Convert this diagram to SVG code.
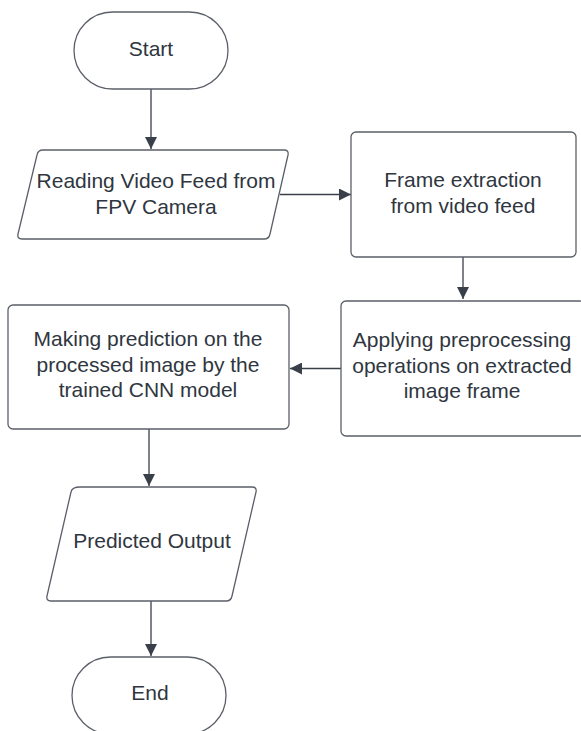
<svg xmlns="http://www.w3.org/2000/svg" width="581" height="731" viewBox="0 0 581 731">
  <defs>
    <marker id="arrow" viewBox="0 0 12 12" refX="12" refY="6" markerWidth="12" markerHeight="12" markerUnits="userSpaceOnUse" orient="auto">
      <path d="M0,0 L12,6 L0,12 Z" fill="#3a404a"/>
    </marker>
    <style>
      .shape { fill: #ffffff; stroke: #5b6068; stroke-width: 1.3; stroke-linejoin: round; }
      .conn { fill: none; stroke: #3a404a; stroke-width: 1.3; marker-end: url(#arrow); }
      .label { font-family: "Liberation Sans", Arial, sans-serif; font-size: 21px; fill: #2f3640; text-anchor: middle; }
    </style>
  </defs>
  <rect width="581" height="731" fill="#ffffff"/>

  <g id="connectors">
    <line class="conn" x1="151" y1="89" x2="151" y2="149"/>
    <line class="conn" x1="280" y1="194.5" x2="351" y2="194.5"/>
    <line class="conn" x1="463" y1="257" x2="463" y2="299"/>
    <line class="conn" x1="341" y1="368.5" x2="290" y2="368.5"/>
    <line class="conn" x1="149" y1="429" x2="149" y2="486"/>
    <line class="conn" x1="151" y1="601" x2="151" y2="656"/>
  </g>

  <g id="start">
    <rect class="shape" x="74" y="12" width="154" height="77" rx="38.5" ry="38.5"/>
    <text class="label" x="151" y="56">Start</text>
  </g>

  <g id="read-feed">
    <path class="shape" d="M43,150 L284,150 Q289,150 288,155 L270,234 Q269,239 264,239 L22,239 Q17,239 18,234 L37,155 Q38,150 43,150 Z"/>
    <text class="label" x="156" y="188">Reading Video Feed from</text>
    <text class="label" x="156" y="214">FPV Camera</text>
  </g>

  <g id="frame-extraction">
    <rect class="shape" x="351" y="132" width="225" height="125" rx="5" ry="5"/>
    <text class="label" x="463" y="187">Frame extraction</text>
    <text class="label" x="463" y="213">from video feed</text>
  </g>

  <g id="preprocessing">
    <rect class="shape" x="341" y="301" width="244" height="135" rx="5" ry="5"/>
    <text class="label" x="462" y="347">Applying preprocessing</text>
    <text class="label" x="462" y="373">operations on extracted</text>
    <text class="label" x="462" y="398">image frame</text>
  </g>

  <g id="prediction">
    <rect class="shape" x="8" y="305" width="281" height="124" rx="5" ry="5"/>
    <text class="label" x="148" y="346">Making prediction on the</text>
    <text class="label" x="148" y="372">processed image by the</text>
    <text class="label" x="148" y="397">trained CNN model</text>
  </g>

  <g id="output">
    <path class="shape" d="M80,487 L252,487 Q257,487 256,492 L232,596 Q231,601 226,601 L51,601 Q46,601 47,596 L71,492 Q72,487 80,487 Z"/>
    <text class="label" x="152" y="548">Predicted Output</text>
  </g>

  <g id="end">
    <rect class="shape" x="72" y="657" width="154" height="77" rx="38.5" ry="38.5"/>
    <text class="label" x="150" y="700">End</text>
  </g>
</svg>
